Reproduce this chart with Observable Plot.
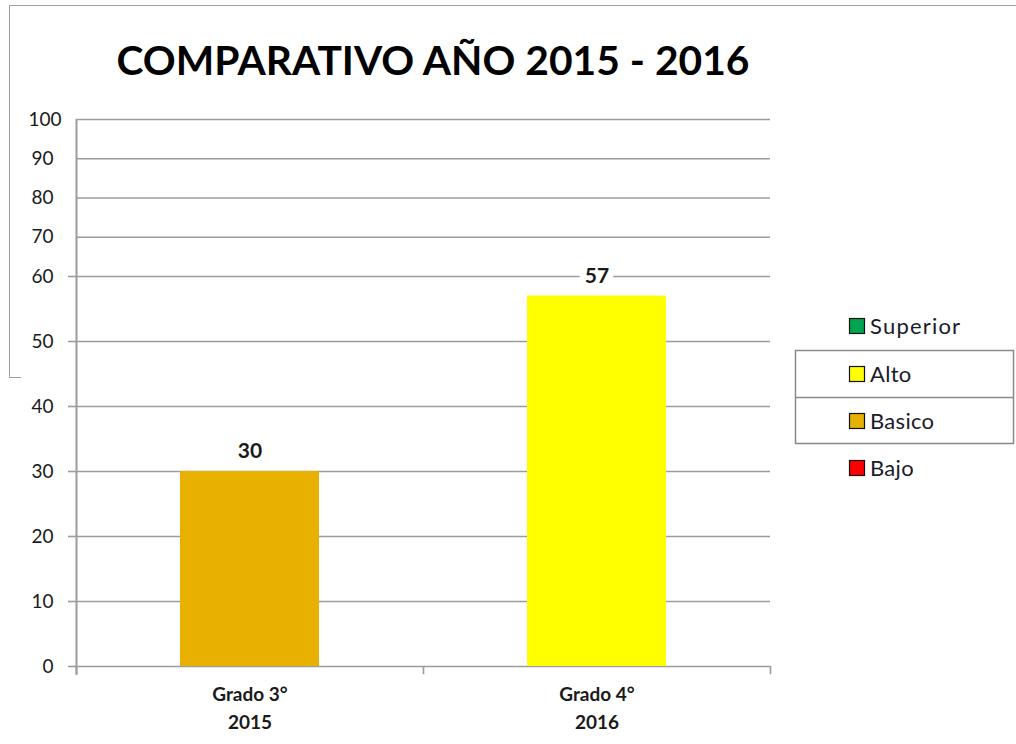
<!DOCTYPE html>
<html>
<head>
<meta charset="utf-8">
<script src="https://cdn.jsdelivr.net/npm/d3@7"></script>
<script src="https://cdn.jsdelivr.net/npm/@observablehq/plot@0.6"></script>
<style>
  body { margin: 0; background: #fff; }
  #wrap { position: relative; width: 1016px; height: 744px; overflow: hidden; font-family: Lato, "Open Sans", sans-serif; }
  #chart { position: absolute; left: 0; top: 0; }
  .frameTop { position: absolute; left: 9px; top: 5px; width: 1010px; height: 372px; border-top: 1.5px solid #a0a0a0; border-left: 1.5px solid #a0a0a0; }
  .frameFoot { position: absolute; left: 9px; top: 377px; width: 12px; border-top: 1.5px solid #a0a0a0; }
  #title { position: absolute; left: 0; top: 0; }
  #legend { position: absolute; left: 0; top: 0; }
</style>
</head>
<body>
<div id="wrap">
  <div class="frameTop"></div>
  <div class="frameFoot"></div>
  <div id="chart"></div>
  <svg id="title" width="1016" height="110">
    <text x="433" y="75" text-anchor="middle" textLength="633" lengthAdjust="spacingAndGlyphs"
      font-family="Lato, 'Open Sans', sans-serif" font-weight="bold" font-size="40" fill="#000">COMPARATIVO AÑO 2015 - 2016</text>
  </svg>
  <svg id="legend" width="1016" height="744"></svg>
</div>
<script>
// ---- data ----
const categories = ["Grado 3°\n2015", "Grado 4°\n2016"];
const values = [30, 57];
const barColors = ["#E8B000", "#FFFF00"];
const yTicksLow = [0, 10, 20, 30, 40, 50, 60];
const yTicksHigh = [70, 80, 90];
const yTicksTop = [100];
const legendLabels = ["Superior", "Alto", "Basico", "Bajo"];
const legendColors = ["#00A550", "#FFFF00", "#E6B000", "#FF0000"];

const data = categories.map((c, i) => ({cat: c, value: values[i], color: barColors[i]}));

const W = 1016, H = 744;
const mL = 76, mR = 246, mT = 119, mB = 78;
const step = (W - mL - mR) / categories.length;
const font = "Lato, 'Open Sans', sans-serif";

const chart = Plot.plot({
  width: W,
  height: H,
  marginLeft: mL,
  marginRight: mR,
  marginTop: mT,
  marginBottom: mB,
  style: {fontFamily: font, background: "transparent", overflow: "visible"},
  x: {domain: categories, paddingInner: 0.6, paddingOuter: 0.3, label: null},
  y: {type: "linear", domain: [0, 60, 100], range: [H - mB, 276, mT], label: null},
  marks: [
    Plot.gridY([...yTicksLow, ...yTicksHigh, ...yTicksTop], {stroke: "#9c9c9c", strokeWidth: 1.6, strokeOpacity: 1}),
    // vertical axis line
    Plot.ruleX([categories[0]], {x: d => d, dx: -step / 2, y1: -1.4, y2: 100, stroke: "#9c9c9c", strokeWidth: 2}),
    // category boundary ticks
    Plot.ruleX(categories, {x: d => d, dx: step / 2, y1: -1.25, y2: 0, stroke: "#9c9c9c", strokeWidth: 1.6}),
    Plot.ruleX([categories[0]], {x: d => d, dx: -step / 2, y1: -1.25, y2: 0, stroke: "#9c9c9c", strokeWidth: 1.6}),
    Plot.barY(data, {x: "cat", y: "value", fill: "color"}),
    Plot.text(data, {x: "cat", y: "value", text: d => String(d.value), dy: -20, fontWeight: "bold", fontSize: 21,
      fill: "#1a1a1a", stroke: "white", strokeWidth: 14, paintOrder: "stroke"}),
    Plot.axisY(yTicksLow, {tickSize: 8, tickPadding: 15, stroke: "#9c9c9c", strokeWidth: 1.6, fill: "#1a1a1a", fontSize: 19, label: null}),
    Plot.axisY(yTicksHigh, {tickSize: 0, tickPadding: 23, fill: "#1a1a1a", fontSize: 19, label: null}),
    Plot.axisY(yTicksTop, {tickSize: 0, tickPadding: 15, fill: "#1a1a1a", fontSize: 19, label: null}),
    Plot.axisX({tickSize: 0, tickPadding: 15, fontWeight: "bold", fontSize: 19, lineHeight: 1.47, fill: "#1a1a1a", label: null})
  ]
});
document.getElementById("chart").appendChild(chart);

// ---- legend ----
const leg = d3.select("#legend");
const rowY = [326, 374, 421, 468];
leg.append("rect").attr("x", 795.5).attr("y", 350.5).attr("width", 218).attr("height", 93)
  .attr("fill", "none").attr("stroke", "#8a8a8a").attr("stroke-width", 1.5);
leg.append("line").attr("x1", 795.5).attr("x2", 1013.5).attr("y1", 397.5).attr("y2", 397.5)
  .attr("stroke", "#8a8a8a").attr("stroke-width", 1.5);
legendLabels.forEach((lab, i) => {
  leg.append("rect").attr("x", 849.5).attr("y", rowY[i] - 7.5).attr("width", 15).attr("height", 15)
    .attr("fill", legendColors[i]).attr("stroke", "#111").attr("stroke-width", 1.2);
  leg.append("text").attr("x", 870).attr("y", rowY[i]).attr("dy", "0.36em")
    .attr("font-family", font).attr("font-size", 22).attr("fill", "#1a1a2a")
    .attr("letter-spacing", i === 0 ? 1.2 : 0.3).text(lab);
});
</script>
</body>
</html>
